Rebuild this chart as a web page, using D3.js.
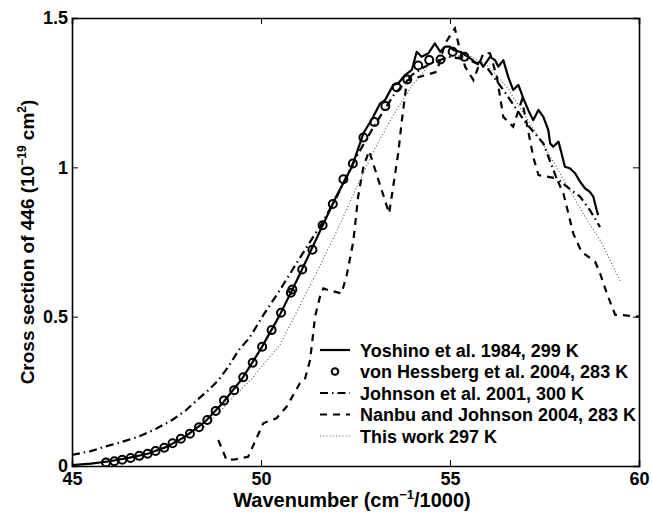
<!DOCTYPE html>
<html><head><meta charset="utf-8">
<script src="https://cdn.jsdelivr.net/npm/d3@7"></script>
<style>
body{margin:0;background:#fff;}
text{font-family:"Liberation Sans",Arial,Helvetica,sans-serif;font-weight:bold;}
</style></head>
<body><svg id="c" width="652" height="518"></svg>
<script>
// ---- data ----
const yoshinoX = [45.0,45.5,46.0,46.5,47.0,47.5,48.0,48.5,49.0,49.5,50.0,50.5,51.0,51.5,52.0,52.4,52.71,52.97,53.15,53.28,53.5,53.63,53.81,53.99,54.12,54.25,54.43,54.6,54.74,54.87,55.0,55.09,55.26,55.48,55.71,55.79,55.88,56.06,56.19,56.28,56.41,56.54,56.67,56.81,56.94,57.07,57.2,57.34,57.47,57.6,57.65,57.73,57.87,57.95,58.04,58.17,58.31,58.44,58.57,58.7,58.79,58.88,58.92];
const yoshinoY = [0.003,0.008,0.016,0.027,0.041,0.064,0.099,0.146,0.213,0.292,0.393,0.506,0.635,0.77,0.905,1.0,1.114,1.169,1.214,1.225,1.276,1.281,1.309,1.326,1.387,1.37,1.382,1.415,1.387,1.404,1.404,1.393,1.387,1.37,1.348,1.354,1.337,1.37,1.359,1.337,1.359,1.303,1.259,1.276,1.231,1.192,1.158,1.192,1.169,1.125,1.08,1.069,1.086,1.047,1.002,0.997,0.98,0.952,0.93,0.918,0.902,0.857,0.84];

const hessbergX = [45.90,46.12,46.33,46.55,46.78,47.00,47.21,47.44,47.66,47.88,48.12,48.36,48.58,48.80,49.02,49.29,49.53,49.78,50.03,50.28,50.53,50.79,50.83,51.09,51.36,51.63,51.90,52.18,52.43,52.71,53.00,53.29,53.59,53.87,54.16,54.45,54.75,55.07,55.38];
const hessbergY = [0.012,0.016,0.021,0.027,0.034,0.041,0.050,0.061,0.076,0.091,0.108,0.130,0.154,0.184,0.219,0.254,0.297,0.346,0.399,0.455,0.513,0.580,0.591,0.658,0.724,0.806,0.877,0.960,1.013,1.100,1.152,1.205,1.268,1.294,1.341,1.359,1.361,1.387,1.370];

const johnsonX = [45.0,45.5,45.88,46.3,46.76,47.2,47.65,48.0,48.31,48.6,48.88,49.15,49.41,49.7,50.06,50.5,50.94,51.3,51.6,52.0,52.5,53.0,53.5,54.0,54.5,55.0,55.5,56.0,56.46,57.0,57.47,57.82,58.2,58.44,58.7,58.97];
const johnsonY = [0.037,0.05,0.065,0.08,0.098,0.123,0.154,0.185,0.221,0.253,0.288,0.335,0.388,0.43,0.505,0.589,0.679,0.751,0.81,0.9,1.03,1.14,1.24,1.31,1.35,1.37,1.36,1.33,1.25,1.15,1.08,0.963,0.924,0.902,0.857,0.80];

const nanbuX = [48.87,49.09,49.31,49.66,50.06,50.41,50.68,51.03,51.16,51.3,51.43,51.56,51.65,51.78,52.13,52.27,52.44,52.57,52.71,52.86,53.39,53.63,53.72,53.86,54.65,54.87,55.13,55.22,55.40,55.62,55.88,56.06,56.24,56.41,56.67,56.9,57.03,57.2,57.34,57.56,57.82,58.0,58.26,58.48,58.84,58.97,59.15,59.37,59.5,60.0];
const nanbuY = [0.087,0.02,0.022,0.031,0.143,0.16,0.199,0.277,0.29,0.355,0.5,0.567,0.595,0.589,0.578,0.64,0.75,0.902,1.002,1.055,0.846,1.047,1.15,1.29,1.32,1.415,1.465,1.415,1.337,1.292,1.382,1.382,1.303,1.169,1.136,1.225,1.147,1.036,0.974,0.969,0.963,0.913,0.779,0.717,0.684,0.645,0.578,0.506,0.506,0.5];

const thisWorkX = [48.5,48.75,49.0,49.25,49.5,49.75,50.0,50.5,51.0,51.5,52.0,52.5,53.0,53.5,54.0,54.5,55.0,55.5,56.0,56.5,57.0,57.5,58.0,58.5,59.0,59.5];
const thisWorkY = [0.13,0.16,0.195,0.23,0.26,0.29,0.33,0.405,0.53,0.655,0.785,0.925,1.06,1.175,1.275,1.35,1.37,1.375,1.34,1.27,1.17,1.07,0.96,0.85,0.75,0.62];

const xTicks = [45,50,55,60];
const yTicks = [0,0.5,1,1.5];
const yTickLabels = ["0","0.5","1","1.5"];
const legendLabels = ["Yoshino et al. 1984, 299 K","von Hessberg et al. 2004, 283 K","Johnson et al. 2001, 300 K","Nanbu and Johnson 2004, 283 K","This work 297 K"];

// ---- chart ----
const svg = d3.select("#c");
const L=72, R=639, T=18, B=466;
const x = d3.scaleLinear().domain([45,60]).range([L,R]);
const y = d3.scaleLinear().domain([0,1.5]).range([B,T]);

svg.append("clipPath").attr("id","clp").append("rect")
  .attr("x",L).attr("y",T).attr("width",R-L).attr("height",B-T);

const line = d3.line().x(d=>x(d[0])).y(d=>y(d[1]));
const zip = (a,b)=>a.map((v,i)=>[v,b[i]]);

const g = svg.append("g").attr("clip-path","url(#clp)");

const styles = [
  {sw:2.2, dash:null, color:"#000"},
  null,
  {sw:2.2, dash:"8,4,1.5,4", color:"#000"},
  {sw:2.2, dash:"7,6", color:"#000"},
  {sw:1.1, dash:"1,2.2", color:"#555"}
];

g.append("path").datum(zip(thisWorkX,thisWorkY)).attr("d",line)
  .attr("fill","none").attr("stroke",styles[4].color).attr("stroke-width",styles[4].sw).attr("stroke-dasharray",styles[4].dash);
g.append("path").datum(zip(johnsonX,johnsonY)).attr("d",line)
  .attr("fill","none").attr("stroke","#000").attr("stroke-width",styles[2].sw).attr("stroke-dasharray",styles[2].dash);
g.append("path").datum(zip(nanbuX,nanbuY)).attr("d",line)
  .attr("fill","none").attr("stroke","#000").attr("stroke-width",styles[3].sw).attr("stroke-dasharray",styles[3].dash);
g.append("path").datum(zip(yoshinoX,yoshinoY)).attr("d",line)
  .attr("fill","none").attr("stroke","#000").attr("stroke-width",styles[0].sw).attr("stroke-linejoin","round");
g.selectAll("circle.h").data(zip(hessbergX,hessbergY)).enter().append("circle")
  .attr("cx",d=>x(d[0])).attr("cy",d=>y(d[1])).attr("r",4)
  .attr("fill","none").attr("stroke","#000").attr("stroke-width",2);

// axes (box with inward ticks)
const fs = 18;
const xb = svg.append("g").attr("transform",`translate(0,${B})`)
  .call(d3.axisBottom(x).tickValues(xTicks).tickSize(-6).tickPadding(6).tickFormat(d3.format("d")));
const xt = svg.append("g").attr("transform",`translate(0,${T})`)
  .call(d3.axisTop(x).tickValues(xTicks).tickSize(-6).tickFormat(""));
const yl = svg.append("g").attr("transform",`translate(${L},0)`)
  .call(d3.axisLeft(y).tickValues(yTicks).tickSize(-6).tickPadding(4).tickFormat((d,i)=>yTickLabels[i]));
const yr = svg.append("g").attr("transform",`translate(${R},0)`)
  .call(d3.axisRight(y).tickValues(yTicks).tickSize(-6).tickFormat(""));
[xb,xt,yl,yr].forEach(a=>{
  a.select(".domain").attr("stroke","#000").attr("stroke-width",1.6);
  a.selectAll(".tick line").attr("stroke","#000").attr("stroke-width",1);
  a.selectAll("text").attr("fill","#000").style("font-size",fs+"px").style("font-weight","bold")
    .style("font-family",'"Liberation Sans",Arial,sans-serif');
});

// axis titles
const xlab = svg.append("text").attr("x",352).attr("y",507).attr("text-anchor","middle").style("font-size","20px");
xlab.append("tspan").text("Wavenumber (cm");
xlab.append("tspan").attr("dy",-8).style("font-size","13px").text("\u22121");
xlab.append("tspan").attr("dy",8).text("/1000)");

const ylab = svg.append("text").attr("transform",`translate(34,242) rotate(-90)`).attr("text-anchor","middle").style("font-size","19px");
ylab.append("tspan").text("Cross section of 446 (10");
ylab.append("tspan").attr("dy",-8).style("font-size","12px").text("\u221219");
ylab.append("tspan").attr("dy",8).text(" cm");
ylab.append("tspan").attr("dy",-8).style("font-size","12px").text("2");
ylab.append("tspan").attr("dy",8).text(")");

// legend
const lg = svg.append("g");
const rowY = [350,371.5,393,414.5,436];
legendLabels.forEach((lab,i)=>{
  const yy = rowY[i];
  if(i===1){
    lg.append("circle").attr("cx",335).attr("cy",yy).attr("r",3.3).attr("fill","none").attr("stroke","#000").attr("stroke-width",2);
  } else {
    const s = styles[i];
    lg.append("line").attr("x1",320).attr("x2",350).attr("y1",yy).attr("y2",yy)
      .attr("stroke",s.color).attr("stroke-width",s.sw).attr("stroke-dasharray",s.dash);
  }
  lg.append("text").attr("x",360).attr("y",yy+6.5).style("font-size","18px").text(lab);
});
</script></body></html>
